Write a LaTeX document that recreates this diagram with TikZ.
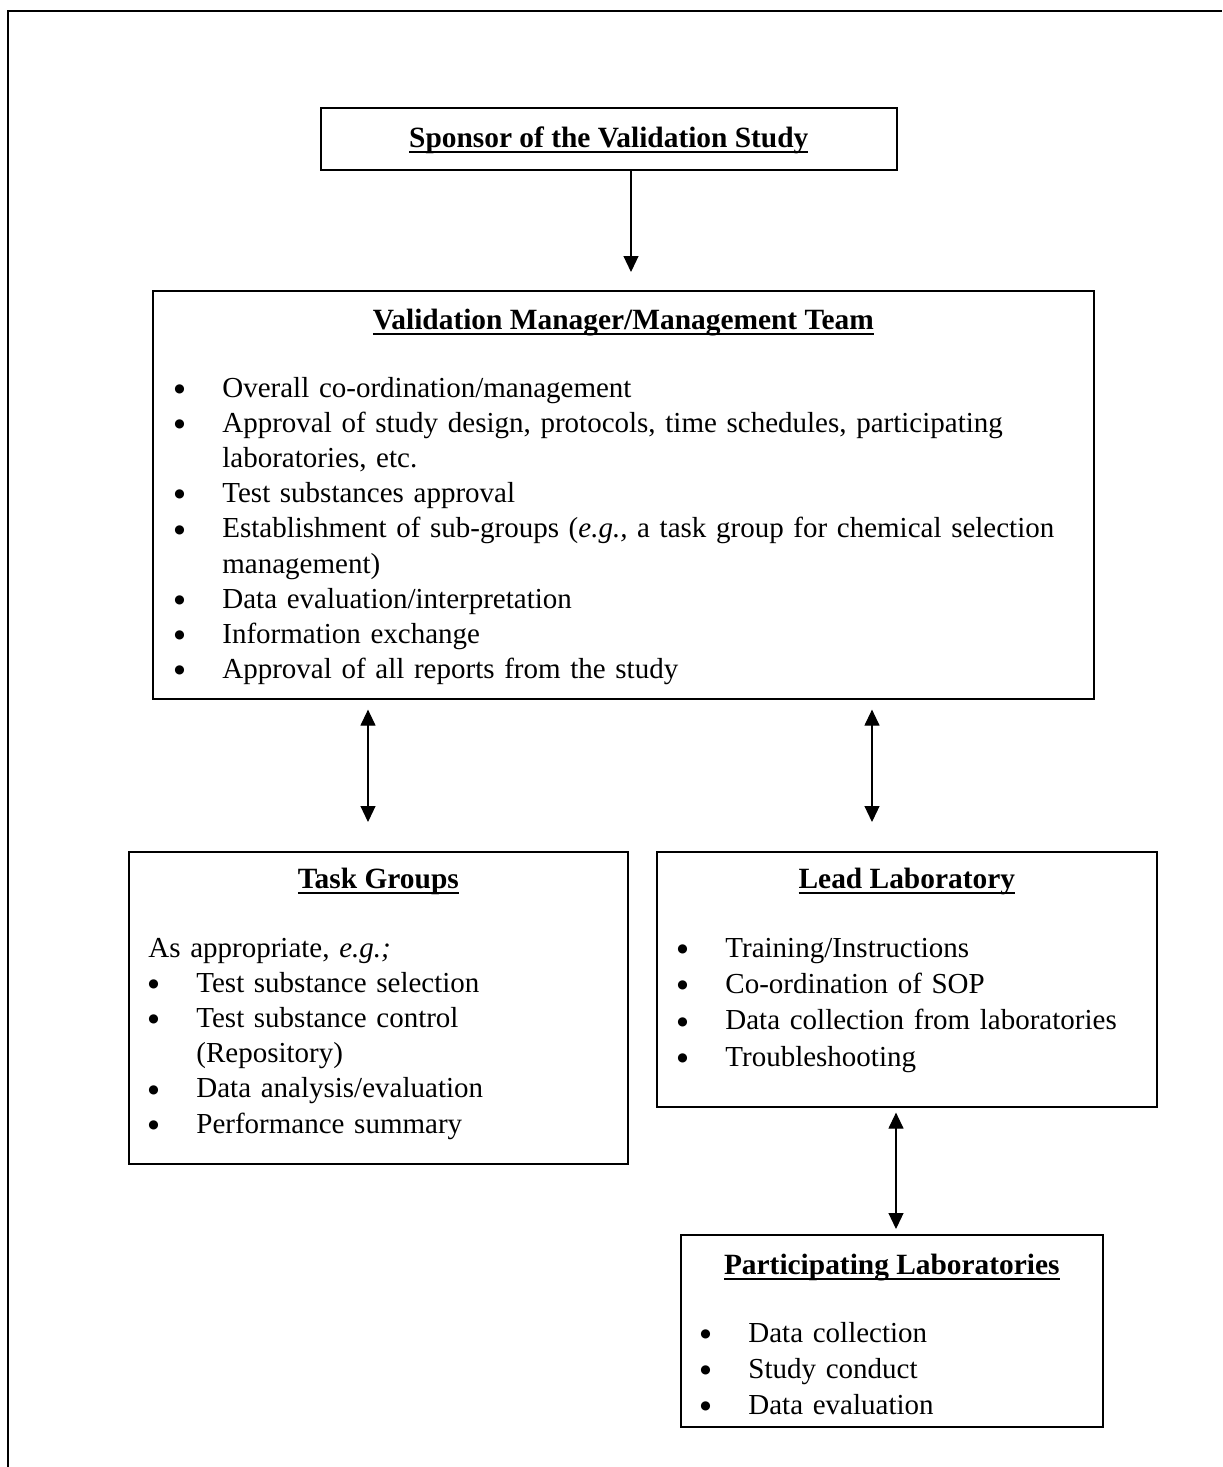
\documentclass[tikz,border=0pt]{standalone}
\usepackage{fontspec}
\setmainfont{Liberation Serif}
\newfontfamily\symfont{DejaVu Sans}
\usetikzlibrary{arrows.meta}

\newcommand{\ultext}[1]{\setbox0=\hbox{#1}\rlap{\rule[-2.8pt]{\wd0}{0.9pt}}\box0}
\newcommand{\bul}{\makebox[24pt][l]{\raisebox{2.4pt}{\fontsize{6}{6}\symfont ●}}}
\newcommand{\gap}{\hspace*{24pt}}

\tikzset{
    box/.style={draw, line width=0.8pt, anchor=north west, inner sep=0pt},
    ttl/.style={font=\fontsize{14.7}{17.6}\selectfont\bfseries, anchor=base, inner sep=0pt},
    lst/.style={font=\fontsize{14.5}{17.6}\selectfont, anchor=base west, inner sep=0pt, align=left},
    arr/.style={line width=0.6pt, -{Triangle[length=8pt,width=7.5pt]}},
    dbl/.style={line width=0.6pt, {Triangle[length=8pt,width=7.5pt]}-{Triangle[length=8pt,width=7.5pt]}}
}

\begin{document}
\begin{tikzpicture}[x=1pt,y=-1pt]
        \useasboundingbox (0,0) rectangle (611,733.5);
        % Draw frame
        \draw[line width=1pt] (4,733.5) -- (4,5.5) -- (611,5.5);

        % Draw boxes
        \node[box, minimum width=288pt, minimum height=31pt] (sponsor) at (160,53.5) {};
        \node[box, minimum width=470.5pt, minimum height=204pt] (vm) at (76,145) {};
        \node[box, minimum width=249.5pt, minimum height=156pt] (task) at (64,425.5) {};
        \node[box, minimum width=250pt, minimum height=127.5pt] (lead) at (328,425.5) {};
        \node[box, minimum width=211pt, minimum height=96pt] (part) at (340,617) {};

        % Titles
        \node[ttl] (sponsortitle) at ([yshift=-4.1pt]sponsor.center) {\ultext{Sponsor of the Validation Study}};
        \node[ttl] (vmtitle) at ([yshift=-19.6pt]vm.north) {\ultext{Validation Manager/Management Team}};
        \node[ttl] (tasktitle) at ([yshift=-18.6pt]task.north) {\ultext{Task Groups}};
        \node[ttl] (leadtitle) at ([yshift=-18.6pt]lead.north) {\ultext{Lead Laboratory}};
        \node[ttl] (parttitle) at ([yshift=-20.1pt]part.north) {\ultext{Participating Laboratories}};

        % Lists
        \node[lst, text width=440pt] (vmlist) at ([xshift=11pt,yshift=-53.5pt]vm.north west) {%
            \bul Overall co-ordination/management\\
            \bul Approval of study design, protocols, time schedules, participating\\
            \gap laboratories, etc.\\
            \bul Test substances approval\\
            \bul Establishment of sub-groups (\textit{e.g.,} a task group for chemical selection\\
            \gap management)\\
            \bul Data evaluation/interpretation\\
            \bul Information exchange\\
            \bul Approval of all reports from the study};
        \node[lst, text width=235pt] (tasklist) at ([xshift=10pt,yshift=-53pt]task.north west) {%
            As appropriate, \textit{e.g.;}\\
            \bul Test substance selection\\
            \bul Test substance control\\
            \gap (Repository)\\
            \bul Data analysis/evaluation\\
            \bul Performance summary};
        \node[lst, text width=235pt, font=\fontsize{14.5}{18.2}\selectfont] (leadlist) at ([xshift=10.5pt,yshift=-53pt]lead.north west) {%
            \bul Training/Instructions\\
            \bul Co-ordination of SOP\\
            \bul Data collection from laboratories\\
            \bul Troubleshooting};
        \node[lst, text width=195pt, font=\fontsize{14.5}{18}\selectfont] (partlist) at ([xshift=10pt,yshift=-54pt]part.north west) {%
            \bul Data collection\\
            \bul Study conduct\\
            \bul Data evaluation};

        % Draw arrows
        \coordinate (ax1) at (315.5,0);
        \coordinate (ax2) at (184,0);
        \coordinate (ax3) at (436,0);
        \coordinate (ax4) at (448,0);
        \draw[arr, shorten >=9pt] (sponsor.south -| ax1) -- (vm.north -| ax1);
        \draw[dbl, shorten <=5pt, shorten >=14.5pt] (vm.south -| ax2) -- (task.north -| ax2);
        \draw[dbl, shorten <=5pt, shorten >=14.5pt] (vm.south -| ax3) -- (lead.north -| ax3);
        \draw[dbl, shorten <=2.5pt, shorten >=2.5pt] (lead.south -| ax4) -- (part.north -| ax4);
    \end{tikzpicture}
\end{document}
